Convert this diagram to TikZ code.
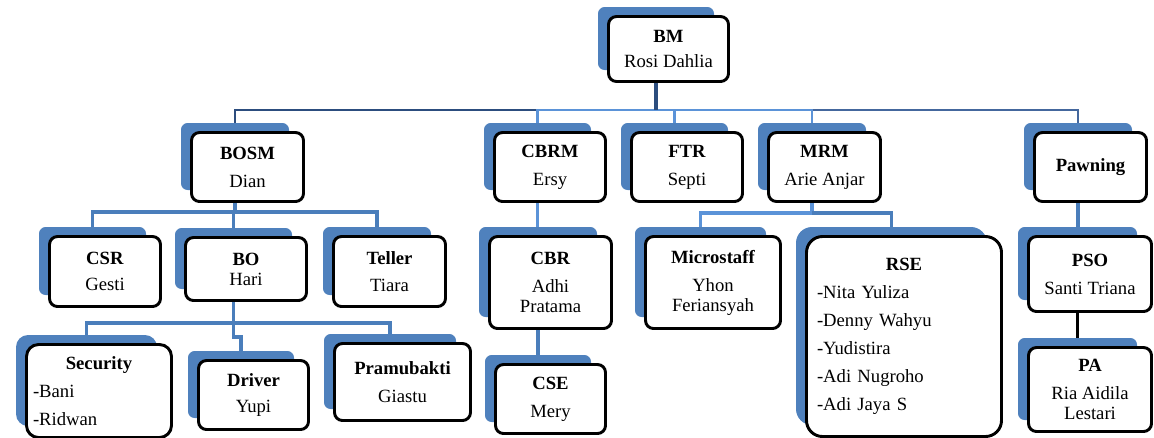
\documentclass[tikz,border=0pt]{standalone}
\usepackage{fontspec}
\setmainfont{Liberation Serif}
\usetikzlibrary{positioning, backgrounds, calc}
\definecolor{cfill}{HTML}{4F81BD}
\definecolor{cnavy}{HTML}{2C4D7E}
\definecolor{csteel}{HTML}{44679D}
\definecolor{clight}{HTML}{5B93D8}
\definecolor{cmid}{HTML}{4A7EBB}
\tikzset{
  every picture/.style={x=0.75pt, y=-0.75pt},
  card/.style={draw=black, line width=2.2pt, fill=white, rounded corners=6pt, align=center, inner sep=2pt, font=\fontsize{14}{15}\selectfont},
  backcard/.style={draw=none, fill=cfill, rounded corners=5pt, inner sep=0pt},
  link/.style={draw=#1, line width=2.3pt},
  link/.default=cmid,
  toplink/.style={draw=#1, line width=1.7pt},
}
% unit = blue backing card + white card: [options]{name}{x}{y}{width}{height}{text}
\newcommand{\orgunit}[7][]{%
  \node[backcard, minimum width={(#5-7)*0.75pt}, minimum height={(#6-5)*0.75pt}, #1] (#2-s) at (#3-12.5,#4-10.5) {};
  \node[card, minimum width={(#5-3)*0.75pt}, minimum height={(#6-3)*0.75pt}, #1] (#2) at (#3,#4) {#7};
}

\begin{document}
\begin{tikzpicture}
  \clip (0,0) rectangle (1154,437);
  % level 1
  \orgunit{bm}{668.5}{49}{123}{68}{\textbf{BM}\\[3.75pt]Rosi Dahlia}
  % level 2
  \orgunit{bosm}{247.5}{167}{115}{72}{\textbf{BOSM}\\[6pt]Dian}
  \orgunit{cbrm}{550}{167}{114}{72}{\textbf{CBRM}\\[6pt]Ersy}
  \orgunit{ftr}{687}{167}{114}{72}{\textbf{FTR}\\[6pt]Septi}
  \orgunit{mrm}{824.5}{167}{115}{72}{\textbf{MRM}\\[6pt]Arie Anjar}
  \orgunit{pawning}{1090.5}{167}{115}{72}{\textbf{Pawning}}
  % level 3
  \orgunit{csr}{105}{271.5}{114}{73}{\textbf{CSR}\\[5pt]Gesti}
  \orgunit{bo}{246}{269}{124}{66}{\textbf{BO}\\Hari}
  \orgunit{teller}{389.5}{271.5}{115}{73}{\textbf{Teller}\\[5pt]Tiara}
  \orgunit{cbr}{550.5}{282.5}{125}{95}{\textbf{CBR}\\[6pt]Adhi\\Pratama}
  \orgunit{micro}{713}{282.5}{138}{95}{\textbf{Microstaff}\\[6pt]Yhon\\Feriansyah}
  \orgunit[text width=130.5pt, align=left, rounded corners=12pt]{rse}{904}{336.5}{198}{203}{\makebox[\hsize]{\textbf{RSE}}\\[6pt]-Nita Yuliza\\[6pt]-Denny Wahyu\\[6pt]-Yudistira\\[6pt]-Adi Nugroho\\[6pt]-Adi Jaya S}
  \orgunit{pso}{1090}{274}{126}{78}{\textbf{PSO}\\[6pt]Santi Triana}
  \orgunit{pa}{1090}{389.5}{126}{87}{\textbf{PA}\\[6pt]Ria Aidila\\Lestari}
  % level 4
  \orgunit[text width=99pt, align=left, rounded corners=9pt]{security}{99}{391}{148}{96}{\makebox[\hsize]{\textbf{Security}}\\[6pt]-Bani\\[6pt]-Ridwan}
  \orgunit{driver}{253.5}{395}{113}{72}{\textbf{Driver}\\[5pt]Yupi}
  \orgunit{pramu}{402.5}{382}{139}{80}{\textbf{Pramubakti}\\[6pt]Giastu}
  \orgunit{cse}{550.5}{399}{113}{72}{\textbf{CSE}\\[6pt]Mery}
  % connectors
  \begin{scope}[on background layer]
    \coordinate (bus-top) at (0,110);
    \coordinate (bus-bosm) at (0,212);
    \coordinate (bus-mrm) at (0,213);
    \coordinate (bus-bo) at (0,323);
    \coordinate (jog-bo) at (0,337);
    \draw[toplink=csteel] (bm-s.south |- bus-top) -| (pawning-s.north);
    \draw[toplink=cnavy] (bm-s.south |- bus-top) -| (bosm-s.north);
    \foreach \c in {cbrm, ftr, mrm}
      \draw[toplink=clight] (bm-s.south |- bus-top) -| (\c-s.north);
    \draw[link=cnavy] (bm-s.south) -- (bm-s.south |- bus-top);
    \foreach \c in {csr, bo, teller}
      \draw[link] (bosm-s.south) -- (bosm-s.south |- bus-bosm) -| (\c-s.north);
    \foreach \c in {security, pramu}
      \draw[link] (bo-s.south) -- (bo-s.south |- bus-bo) -| (\c-s.north);
    \draw[link] (bo-s.south) -- (bo-s.south |- jog-bo) -| (driver-s.north);
    \draw[link=clight] (cbrm-s.south) -- (cbrm-s.south |- cbr-s.north);
    \draw[link] (cbr-s.south) -- (cbr-s.south |- cse-s.north);
    \draw[link=clight] (mrm-s.south) -- (mrm-s.south |- bus-mrm) -| (micro-s.north);
    \draw[link] (mrm-s.south |- bus-mrm) -| (rse-s.north);
    \draw[link] (pawning-s.south) -- (pawning-s.south |- pso-s.north);
    \draw[link=black, line width=2.8pt] (pso-s.south) -- (pso-s.south |- pa-s.north);
  \end{scope}
\end{tikzpicture}
\end{document}
